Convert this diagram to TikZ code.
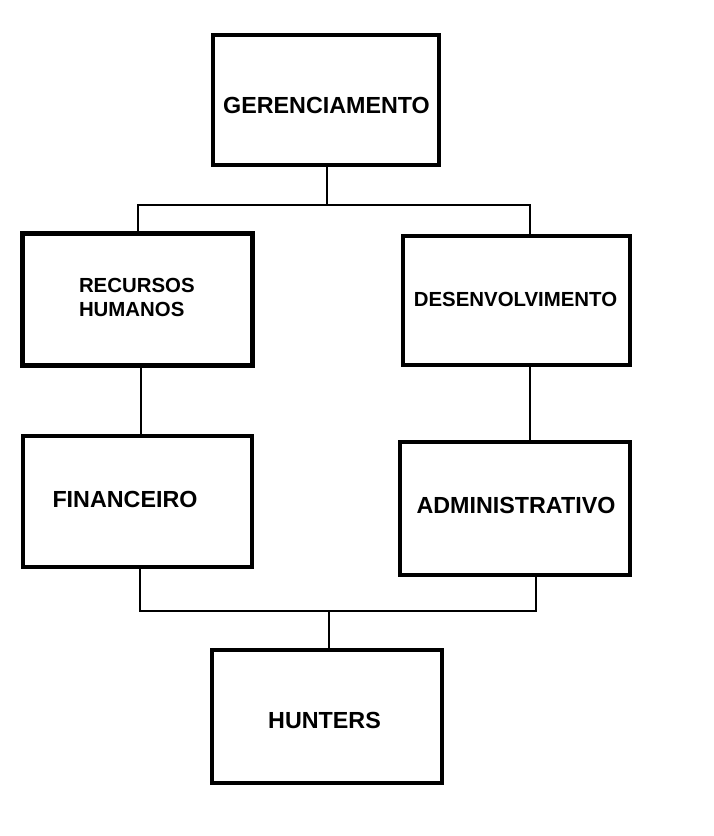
\documentclass[tikz,border=0pt]{standalone}
\usepackage{fontspec}
\setmainfont{Liberation Sans}
\begin{document}
\begin{tikzpicture}[x=1pt,y=-1pt,
  box/.style={draw=black,line width=4.7pt,inner sep=0pt,outer sep=0pt,rectangle},
  bigtxt/.style={inner sep=0pt,outer sep=0pt,anchor=base,font=\fontsize{23.3}{27}\selectfont\bfseries},
  smalltxt/.style={inner sep=0pt,outer sep=0pt,font=\fontsize{20.4}{24}\selectfont\bfseries},
  conn/.style={draw=black,line width=1.3pt}]
\useasboundingbox (0,0) rectangle (714,836);
% boxes
\node[box,minimum width=226pt,minimum height=130pt] (ger) at (326,100) {};
\node[box,minimum width=230pt,minimum height=132pt] (rh) at (137.5,299.5) {};
\node[box,minimum width=227pt,minimum height=129pt] (des) at (516.5,300.5) {};
\node[box,minimum width=229pt,minimum height=131pt] (fin) at (137.5,501.5) {};
\node[box,minimum width=230pt,minimum height=133pt] (adm) at (515,508.5) {};
\node[box,minimum width=230pt,minimum height=133pt] (hun) at (327,716.5) {};
% texts
\node[bigtxt] (gert) at (326.5,113) {GERENCIAMENTO};
\node[smalltxt,anchor=base west,align=left] (rht) at (79,316) {RECURSOS\\HUMANOS};
\node[smalltxt,anchor=base] (dest) at (515.5,306.7) {DESENVOLVIMENTO};
\node[bigtxt] (fint) at (125,507.7) {FINANCEIRO};
\node[bigtxt] (admt) at (516,513.3) {ADMINISTRATIVO};
\node[bigtxt] (hunt) at (324.5,728) {HUNTERS};
% bus coordinates
\coordinate (bus1) at (327,205);
\coordinate (bus2) at (329,611);
% connectors
\draw[conn] ([xshift=1pt]ger.south) -- (bus1);
\draw[conn] ([xshift=0.5pt]rh.north) |- (bus1) -| ([xshift=13.5pt]des.north);
\draw[conn] ([xshift=3.5pt]rh.south) -- ([xshift=3.5pt]fin.north);
\draw[conn] ([xshift=13.5pt]des.south) -- ([xshift=15pt]adm.north);
\draw[conn] ([xshift=2.5pt]fin.south) |- (bus2) -| ([xshift=21pt]adm.south);
\draw[conn] (bus2) -- ([xshift=2pt]hun.north);
\end{tikzpicture}
\end{document}
